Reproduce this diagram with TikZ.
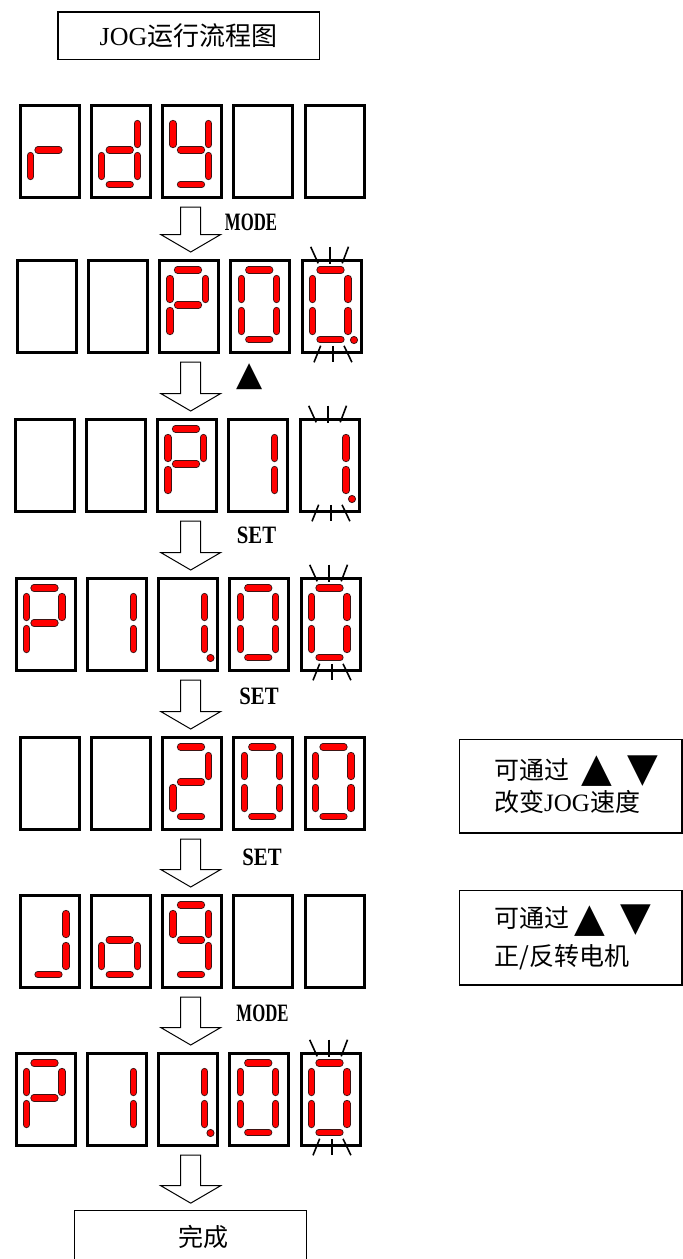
\documentclass[tikz,border=0pt]{standalone}
\usepackage{fontspec}
\setmainfont{Liberation Serif}
\newfontfamily\cjk{Noto Sans CJK SC}
\newfontfamily\sym{DejaVu Sans}
\usetikzlibrary{calc}
\definecolor{segred}{RGB}{255,0,0}
\definecolor{segdark}{RGB}{60,20,20}
\tikzset{
  dispbox/.style={draw, line width=3pt, minimum width=59pt, minimum height=92pt, inner sep=0pt, anchor=north west},
  segout/.style={line width=7.2pt, line cap=round, draw=segdark},
  segin/.style={line width=5.4pt, line cap=round, draw=segred},
  ray/.style={line width=1.6pt, draw=black},
  blockarr/.style={draw=black, line width=1pt, fill=white, line join=miter},
  tbox/.style={draw, line width=1.5pt, inner sep=0pt},
  rbox/.style={draw, line width=1.3pt, inner sep=0pt, anchor=north west},
  txt/.style={inner sep=0pt, font=\fontsize{25}{28}\selectfont},
  tri/.style={inner sep=0pt, font=\sym\fontsize{40}{40}\selectfont},
  lab/.style={inner sep=0pt, xscale=0.83, font=\fontsize{25}{25}\selectfont\bfseries},
  labw/.style={inner sep=0pt, xscale=0.67, font=\fontsize{25}{25}\selectfont\bfseries}
}
\newcommand\segp[4]{\draw[segout] (#1,#2) -- (#3,#4); \draw[segin] (#1,#2) -- (#3,#4);}
\newcommand\sgA{\segp{21}{13}{42}{13}}
\newcommand\sgB{\segp{49}{21.5}{49}{42.5}}
\newcommand\sgC{\segp{49}{53.5}{49}{74.5}}
\newcommand\sgD{\segp{21}{82.5}{42}{82.5}}
\newcommand\sgE{\segp{13.5}{53.5}{13.5}{74.5}}
\newcommand\sgF{\segp{13.5}{21.5}{13.5}{42.5}}
\newcommand\sgG{\segp{21}{48}{42}{48}}
\newcommand\sgDP{\filldraw[fill=segred, draw=segdark, line width=0.8pt] (55,83) circle (3.6);}
\newcommand\blnk{%
  \draw[ray] (11.7,-10.2) -- (19.2,6.3); \draw[ray] (30.7,-10.3) -- (30.7,6.5); \draw[ray] (49.5,-10.3) -- (43.2,6.3);
  \draw[ray] (21.7,88.7) -- (15,105.3); \draw[ray] (33.9,88.8) -- (33.9,105.2); \draw[ray] (45,88.8) -- (52.9,105.2);}
\newcommand\dgP{\sgA\sgB\sgF\sgG\sgE}
\newcommand\dgZ{\sgA\sgB\sgC\sgD\sgE\sgF}
\newcommand\dgI{\sgB\sgC}
\newcommand\dgT{\sgA\sgB\sgG\sgE\sgD}
\newcommand\dgN{\sgA\sgB\sgC\sgD\sgF\sgG}
\newcommand\dgR{\sgE\sgG}
\newcommand\dgD{\sgB\sgC\sgD\sgE\sgG}
\newcommand\dgY{\sgB\sgC\sgD\sgF\sgG}
\newcommand\dgJ{\sgB\sgC\sgD}
\newcommand\dgO{\sgC\sgD\sgE\sgG}
\newcommand\dbox[4]{%
  \node[dispbox] (#1) at (#2+1.5,#3+1.5) {};
  \begin{scope}[shift={(#2,#3)}] #4 \end{scope}}
\newcommand\drow[8]{%
  \dbox{d#11}{#2}{#3}{#4}
  \dbox{d#12}{#2+71.25}{#3}{#5}
  \dbox{d#13}{#2+142.5}{#3}{#6}
  \dbox{d#14}{#2+213.75}{#3}{#7}
  \dbox{d#15}{#2+285}{#3}{#8}}
\newcommand\blockarrow[2]{%
  \draw[blockarr] let \p1=(#1.south), \p2=(#2.north), \p3=(ax) in
   (\x3-10pt,\y1-8.5pt) -- (\x3+10pt,\y1-8.5pt) -- (\x3+10pt,\y2+24pt) -- (\x3+30pt,\y2+24pt)
   -- (\x3,\y2+6.5pt) -- (\x3-30pt,\y2+24pt) -- (\x3-10pt,\y2+24pt) -- cycle;}
\begin{document}
\begin{tikzpicture}[x=1pt,y=-1pt]
\useasboundingbox (0,0) rectangle (683,1259);
\clip (0,0) rectangle (683,1259);
\coordinate (ax) at (190.7,0);
% title
\node[tbox, minimum width=261.5pt, minimum height=47.5pt, font=\fontsize{26}{30}\selectfont] (title) at (188.5,35.5) {JOG{\cjk 运行流程图}};
% display rows
\drow{1}{17}{102}{\dgR}{\dgD}{\dgY}{}{}
\drow{2}{14}{257}{}{}{\dgP}{\dgZ}{\dgZ\sgDP\blnk}
\drow{3}{12}{416}{}{}{\dgP}{\dgI}{\dgI\sgDP\blnk}
\drow{4}{13}{575}{\dgP}{\dgI}{\dgI\sgDP}{\dgZ}{\dgZ\blnk}
\drow{5}{17}{734}{}{}{\dgT}{\dgZ}{\dgZ}
\drow{6}{17}{892}{\dgJ}{\dgO}{\dgN}{}{}
\drow{7}{13}{1050}{\dgP}{\dgI}{\dgI\sgDP}{\dgZ}{\dgZ\blnk}
% final box
\node[draw, line width=1.3pt, inner sep=0pt, minimum width=231.7pt, minimum height=90pt, anchor=north] (fin) at (190.5,1209.65) {};
\node[txt] (fint) at (203.5,1237) {\cjk 完成};
% arrows
\blockarrow{d13}{d23}
\blockarrow{d23}{d33}
\blockarrow{d33}{d43}
\blockarrow{d43}{d53}
\blockarrow{d53}{d63}
\blockarrow{d63}{d73}
\blockarrow{d73}{fin}
% arrow labels
\node[labw] (l1) at (251,222) {MODE};
\node[tri, font=\sym\fontsize{34}{34}\selectfont] (l2) at (250,377) {▲};
\node[lab] (l3) at (256.5,535) {SET};
\node[lab] (l4) at (259,696) {SET};
\node[lab] (l5) at (262,857) {SET};
\node[labw] (l6) at (262.5,1013) {MODE};
% right boxes
\node[rbox, minimum width=222.7pt, minimum height=93.7pt] (rb1) at (458.65,738.65) {};
\node[txt, anchor=west] (rb1a) at (494,770) {\cjk 可通过};
\node[tri] (rb1u) at (597,771) {▲};
\node[tri] (rb1d) at (642.5,771) {▼};
\node[txt, anchor=west] (rb1b) at (494,802) {{\cjk 改变}JOG{\cjk 速度}};
\node[rbox, minimum width=222.7pt, minimum height=94.7pt] (rb2) at (458.65,889.65) {};
\node[txt, anchor=west] (rb2a) at (494,918) {\cjk 可通过};
\node[tri] (rb2u) at (589.7,921.5) {▲};
\node[tri] (rb2d) at (635.5,920) {▼};
\node[txt, anchor=west] (rb2b) at (494,957) {\cjk 正/反转电机};
\end{tikzpicture}
\end{document}
